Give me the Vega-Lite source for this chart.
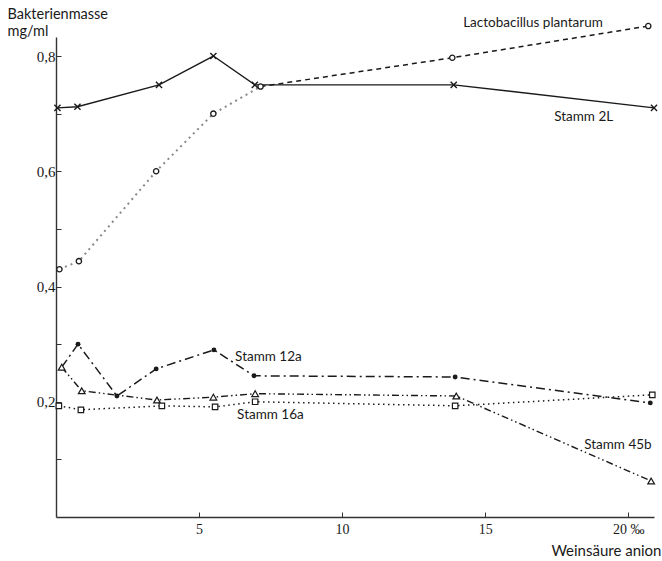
{
  "$schema": "https://vega.github.io/schema/vega-lite/v6.json",
  "width": 598,
  "height": 480,
  "autosize": {"type": "none"},
  "padding": {"left": 56, "top": 37, "right": 8, "bottom": 44},
  "background": "white",
  "config": {"view": {"stroke": null}, "font": "Lato"},
  "datasets": {
    "pts": [
      {"s": "2L", "x": 0.05, "y": 0.71},
      {"s": "2L", "x": 0.75, "y": 0.712},
      {"s": "2L", "x": 3.6, "y": 0.75},
      {"s": "2L", "x": 5.5, "y": 0.8},
      {"s": "2L", "x": 6.95, "y": 0.75},
      {"s": "2L", "x": 13.9, "y": 0.75},
      {"s": "2L", "x": 20.9, "y": 0.71},
      {"s": "Lacto", "x": 0.12, "y": 0.43},
      {"s": "Lacto", "x": 0.8, "y": 0.444},
      {"s": "Lacto", "x": 3.5, "y": 0.6},
      {"s": "Lacto", "x": 5.5, "y": 0.7},
      {"s": "Lacto", "x": 7.15, "y": 0.747},
      {"s": "Lacto", "x": 13.85, "y": 0.797},
      {"s": "Lacto", "x": 20.7, "y": 0.852},
      {"s": "12a", "x": 0.2, "y": 0.26},
      {"s": "12a", "x": 0.77, "y": 0.3},
      {"s": "12a", "x": 2.13, "y": 0.21},
      {"s": "12a", "x": 3.5, "y": 0.257},
      {"s": "12a", "x": 5.52, "y": 0.29},
      {"s": "12a", "x": 6.92, "y": 0.245},
      {"s": "12a", "x": 13.95, "y": 0.243},
      {"s": "12a", "x": 20.77, "y": 0.198},
      {"s": "45b", "x": 0.2, "y": 0.26},
      {"s": "45b", "x": 0.9, "y": 0.219},
      {"s": "45b", "x": 3.53, "y": 0.203},
      {"s": "45b", "x": 5.5, "y": 0.208},
      {"s": "45b", "x": 6.96, "y": 0.214},
      {"s": "45b", "x": 13.99, "y": 0.21},
      {"s": "45b", "x": 20.8, "y": 0.0625},
      {"s": "16a", "x": 0.1, "y": 0.193},
      {"s": "16a", "x": 0.87, "y": 0.186},
      {"s": "16a", "x": 3.7, "y": 0.193},
      {"s": "16a", "x": 5.56, "y": 0.191},
      {"s": "16a", "x": 6.96, "y": 0.2},
      {"s": "16a", "x": 13.95, "y": 0.193},
      {"s": "16a", "x": 20.84, "y": 0.212}
    ],
    "labels": [
      {"label": "Lactobacillus plantarum", "x": 14.23, "y": 0.858},
      {"label": "Stamm 2L", "x": 17.41, "y": 0.694},
      {"label": "Stamm 12a", "x": 6.26, "y": 0.278},
      {"label": "Stamm 16a", "x": 6.33, "y": 0.177},
      {"label": "Stamm 45b", "x": 18.46, "y": 0.125}
    ]
  },
  "layer": [
    {
      "data": {"name": "pts"},
      "transform": [{"filter": "datum.s == '2L'"}],
      "mark": {"type": "line", "stroke": "#1a1a1a", "strokeWidth": 1.4},
      "encoding": {
        "x": {
          "field": "x", "type": "quantitative",
          "scale": {"domain": [0, 20.9], "nice": false, "zero": false},
          "axis": {
            "values": [5, 10, 15, 20],
            "grid": false,
            "tickSize": -5,
            "tickColor": "#333",
            "domainColor": "#333",
            "domainWidth": 1.4,
            "labelFont": "Liberation Serif",
            "labelFontSize": 14,
            "labelColor": "#1a1a1a",
            "labelPadding": 10,
            "labelExpr": "datum.value == 20 ? '20 ‰' : datum.label",
            "title": "Weinsäure anion",
            "titleFont": "Lato",
            "titleFontSize": 15,
            "titleFontWeight": "normal",
            "titleColor": "#1a1a1a",
            "titleAlign": "right",
            "titleBaseline": "middle",
            "titleX": 605,
            "titleY": 33
          }
        },
        "y": {
          "field": "y", "type": "quantitative",
          "scale": {"domain": [0, 0.833], "nice": false, "zero": false},
          "axis": {
            "values": [0.1, 0.2, 0.3, 0.4, 0.5, 0.6, 0.7, 0.8],
            "grid": false,
            "tickSize": -5,
            "tickColor": "#333",
            "domainColor": "#333",
            "domainWidth": 1.4,
            "labelFont": "Liberation Serif",
            "labelFontSize": 15,
            "labelColor": "#1a1a1a",
            "labelPadding": 6,
            "labelExpr": "round(datum.value * 10) % 2 == 0 ? replace(format(datum.value, '.1f'), '.', ',') : ''",
            "title": ["Bakterienmasse", "mg/ml"],
            "titleFont": "Lato",
            "titleFontSize": 14.5,
            "titleFontWeight": "normal",
            "titleColor": "#1a1a1a",
            "titleAngle": 0,
            "titleAlign": "left",
            "titleBaseline": "top",
            "titleLineHeight": 17,
            "titleX": -49,
            "titleY": -30
          }
        }
      }
    },
    {
      "data": {"name": "pts"},
      "transform": [{"filter": "datum.s == 'Lacto' && datum.x <= 7.5"}],
      "mark": {"type": "line", "stroke": "#888", "strokeWidth": 2, "strokeDash": [2, 4]},
      "encoding": {"x": {"field": "x", "type": "quantitative"}, "y": {"field": "y", "type": "quantitative"}}
    },
    {
      "data": {"name": "pts"},
      "transform": [{"filter": "datum.s == 'Lacto' && datum.x >= 7"}],
      "mark": {"type": "line", "stroke": "#1a1a1a", "strokeWidth": 1.5, "strokeDash": [5, 4]},
      "encoding": {"x": {"field": "x", "type": "quantitative"}, "y": {"field": "y", "type": "quantitative"}}
    },
    {
      "data": {"name": "pts"},
      "transform": [{"filter": "datum.s == '12a'"}],
      "mark": {"type": "line", "stroke": "#1a1a1a", "strokeWidth": 1.5, "strokeDash": [9, 4, 2, 4]},
      "encoding": {"x": {"field": "x", "type": "quantitative"}, "y": {"field": "y", "type": "quantitative"}}
    },
    {
      "data": {"name": "pts"},
      "transform": [{"filter": "datum.s == '45b'"}],
      "mark": {"type": "line", "stroke": "#1a1a1a", "strokeWidth": 1.4, "strokeDash": [7, 3, 1.5, 3, 1.5, 3]},
      "encoding": {"x": {"field": "x", "type": "quantitative"}, "y": {"field": "y", "type": "quantitative"}}
    },
    {
      "data": {"name": "pts"},
      "transform": [{"filter": "datum.s == '16a'"}],
      "mark": {"type": "line", "stroke": "#1a1a1a", "strokeWidth": 1.5, "strokeDash": [1.5, 3.5]},
      "encoding": {"x": {"field": "x", "type": "quantitative"}, "y": {"field": "y", "type": "quantitative"}}
    },
    {
      "data": {"name": "pts"},
      "transform": [{"filter": "datum.s == '2L'"}],
      "mark": {"type": "point", "shape": "M-1,-1L1,1M-1,1L1,-1", "filled": false, "stroke": "#1a1a1a", "strokeWidth": 1.4, "size": 38, "opacity": 1},
      "encoding": {"x": {"field": "x", "type": "quantitative"}, "y": {"field": "y", "type": "quantitative"}}
    },
    {
      "data": {"name": "pts"},
      "transform": [{"filter": "datum.s == 'Lacto'"}],
      "mark": {"type": "point", "shape": "circle", "filled": true, "fill": "white", "stroke": "#1a1a1a", "strokeWidth": 1.3, "size": 28, "opacity": 1},
      "encoding": {"x": {"field": "x", "type": "quantitative"}, "y": {"field": "y", "type": "quantitative"}}
    },
    {
      "data": {"name": "pts"},
      "transform": [{"filter": "datum.s == '12a' && datum.x > 0.5"}],
      "mark": {"type": "point", "shape": "circle", "filled": true, "fill": "#1a1a1a", "size": 24, "opacity": 1},
      "encoding": {"x": {"field": "x", "type": "quantitative"}, "y": {"field": "y", "type": "quantitative"}}
    },
    {
      "data": {"name": "pts"},
      "transform": [{"filter": "datum.s == '45b'"}],
      "mark": {"type": "point", "shape": "triangle-up", "filled": true, "fill": "white", "stroke": "#1a1a1a", "strokeWidth": 1.2, "size": 45, "opacity": 1},
      "encoding": {"x": {"field": "x", "type": "quantitative"}, "y": {"field": "y", "type": "quantitative"}}
    },
    {
      "data": {"name": "pts"},
      "transform": [{"filter": "datum.s == '16a'"}],
      "mark": {"type": "point", "shape": "square", "filled": true, "fill": "white", "stroke": "#1a1a1a", "strokeWidth": 1.2, "size": 30, "opacity": 1},
      "encoding": {"x": {"field": "x", "type": "quantitative"}, "y": {"field": "y", "type": "quantitative"}}
    },
    {
      "data": {"name": "labels"},
      "mark": {"type": "text", "align": "left", "baseline": "middle", "font": "Lato", "fontSize": 13.5, "fill": "#1a1a1a"},
      "encoding": {
        "x": {"field": "x", "type": "quantitative"},
        "y": {"field": "y", "type": "quantitative"},
        "text": {"field": "label"}
      }
    }
  ]
}
